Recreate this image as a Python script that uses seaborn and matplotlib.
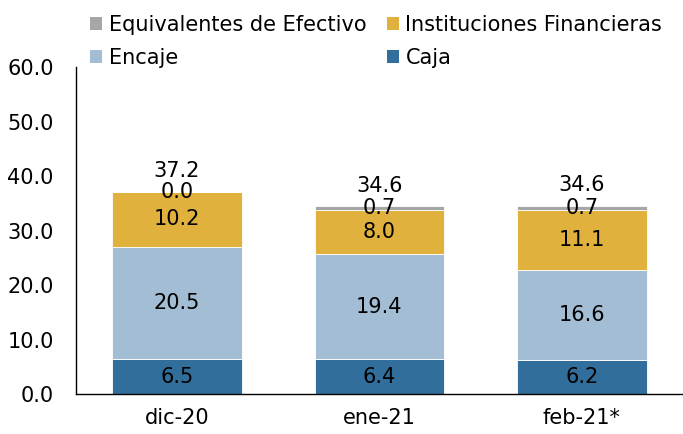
import matplotlib
matplotlib.use("Agg")
import matplotlib.pyplot as plt
import seaborn as sns
import pandas as pd
import numpy as np
from matplotlib.patches import Patch

categories = ["dic-20", "ene-21", "feb-21*"]
caja = [6.5, 6.4, 6.2]
encaje = [20.5, 19.4, 16.6]
instituciones = [10.2, 8.0, 11.1]
equivalentes = [0.0, 0.7, 0.7]
totales = [37.2, 34.6, 34.6]

series_names = ["Caja", "Encaje", "Instituciones Financieras", "Equivalentes de Efectivo"]
series_vals = [caja, encaje, instituciones, equivalentes]
colors = {"Caja": "#326E9B", "Encaje": "#A3BDD4",
          "Instituciones Financieras": "#E0B23D", "Equivalentes de Efectivo": "#A6A6A6"}

sns.set_style("white")
plt.rcParams['font.family'] = ['DejaVu Sans']
FS = 15

fig = plt.figure(figsize=(6.83, 4.34), dpi=100)
ax = fig.add_axes([0.111, 0.0915, 0.889, 0.7535])

bottom = np.zeros(len(categories))
for name, vals in zip(series_names, series_vals):
    df = pd.DataFrame({"cat": categories, "val": vals})
    sns.barplot(data=df, x="cat", y="val", color=colors[name], bottom=bottom,
                width=0.64, ax=ax, edgecolor="white", linewidth=0.6, saturation=1)
    for i, v in enumerate(vals):
        ax.text(i, bottom[i] + v / 2, f"{v:.1f}", ha="center", va="center",
                fontsize=FS, color="black")
    bottom = bottom + np.array(vals)

for i, t in enumerate(totales):
    ax.text(i, bottom[i] + 3.8, f"{t:.1f}", ha="center", va="center",
            fontsize=FS, color="black")

ax.set_ylim(0, 60)
ax.set_xlim(-0.5, 2.5)
ax.set_yticks(np.arange(0, 61, 10))
ax.set_yticklabels([f"{v:.1f}" for v in np.arange(0, 61, 10)], fontsize=FS, color="black")
ax.set_xticks([-0.5, 0.5, 1.5, 2.5])
ax.set_xticklabels([])
ax.set_xticks([0, 1, 2], minor=True)
ax.set_xticklabels(categories, minor=True, fontsize=FS, color="black")
ax.tick_params(axis="x", which="minor", length=0, pad=10)
ax.tick_params(axis="x", which="major", length=6, width=1, direction="out", color="black")
ax.tick_params(axis="y", length=7, width=1, direction="out", color="black", pad=9)
ax.set_xlabel("")
ax.set_ylabel("")
for s in ["top", "right"]:
    ax.spines[s].set_visible(False)
for s in ["left", "bottom"]:
    ax.spines[s].set_color("black")
    ax.spines[s].set_linewidth(1)

handles = [Patch(facecolor=colors[n], edgecolor="none") for n in
           ["Equivalentes de Efectivo", "Encaje", "Instituciones Financieras", "Caja"]]
labels = ["Equivalentes de Efectivo", "Encaje", "Instituciones Financieras", "Caja"]
fig.legend(handles, labels, ncol=2, loc="upper left", bbox_to_anchor=(0.12, 0.985),
           frameon=False, fontsize=FS, handlelength=0.58, handleheight=0.58,
           handletextpad=0.3, columnspacing=1.0, labelspacing=0.62, borderaxespad=0,
           labelcolor="black")

fig.savefig("out.png", dpi=100)
